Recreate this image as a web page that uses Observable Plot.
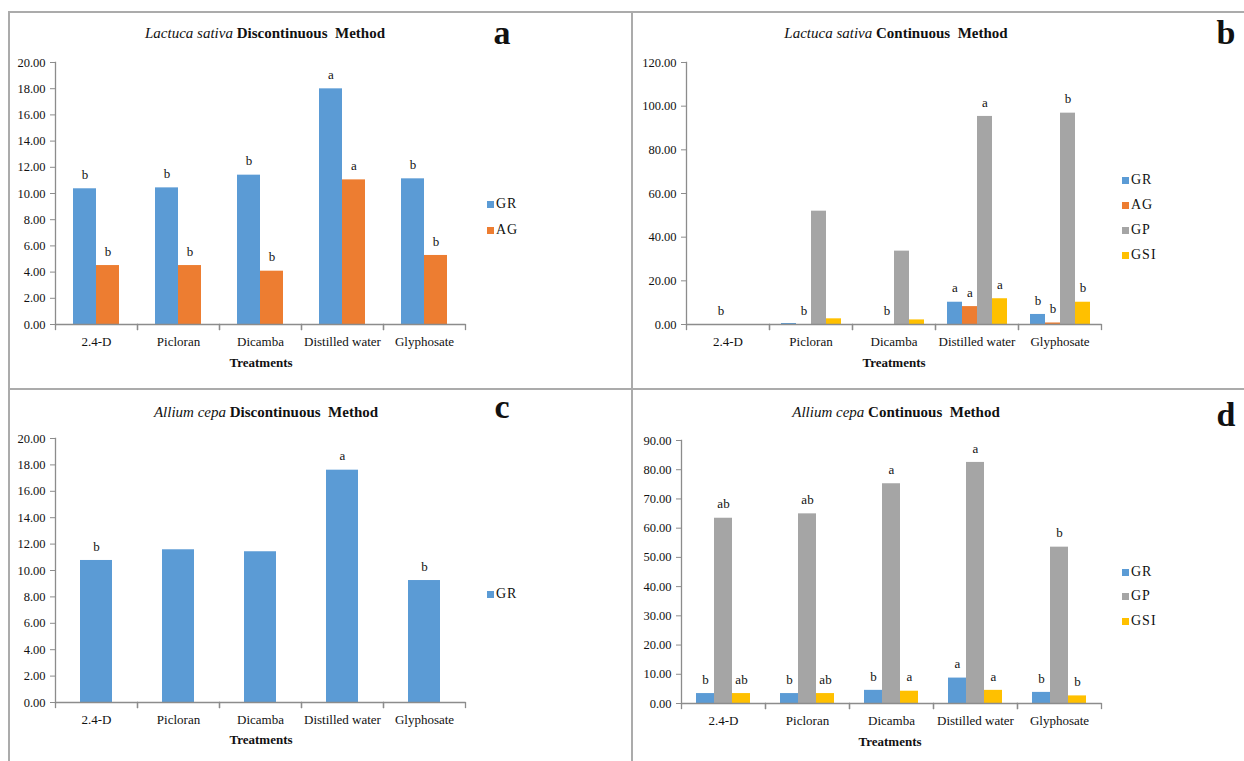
<!DOCTYPE html>
<html>
<head>
<meta charset="utf-8">
<script src="https://cdn.jsdelivr.net/npm/d3@7"></script>
<script src="https://cdn.jsdelivr.net/npm/@observablehq/plot@0.6"></script>
<style>
  html, body { margin: 0; padding: 0; background: #fff; }
  #wrap { position: relative; width: 1244px; height: 761px; overflow: hidden; background: #fff;
          font-family: "Liberation Serif", "Times New Roman", serif; color: #111; }
  #wrap svg, #wrap svg text { font-family: "Liberation Serif", "Times New Roman", serif !important; }
  .panel { position: absolute; box-sizing: border-box; border: 2px solid #ababab; }
  .title { position: absolute; transform: translate(-50%, -50%); font-size: 15px; white-space: nowrap; }
  .title i { font-weight: normal; }
  .title b { font-weight: bold; }
  .letter { position: absolute; font-size: 34px; font-weight: bold; line-height: 1; transform: translate(-50%, 0); }
  .xlab { position: absolute; transform: translate(-50%, -50%); font-size: 13px; font-weight: bold; white-space: nowrap; }
  .leg { position: absolute; font-size: 14px; white-space: nowrap; transform: translate(0, -50%); display: flex; align-items: center; letter-spacing: 1px; }
  .leg span.sw { display: inline-block; width: 7px; height: 7px; margin-right: 2px; }
</style>
</head>
<body>
<div id="wrap"></div>
<script>
// ---------- data ----------
const treatments = ["2.4-D", "Picloran", "Dicamba", "Distilled water", "Glyphosate"];
const seriesNames = ["GR", "AG", "GP", "GSI"];
const seriesColors = ["#5b9bd5", "#ed7d31", "#a5a5a5", "#ffc000"];

// (a) Lactuca sativa – discontinuous
const aGR = [10.36, 10.43, 11.40, 17.99, 11.12];
const aAG = [4.50, 4.50, 4.07, 11.04, 5.27];
const aGRsig = ["b", "b", "b", "a", "b"];
const aAGsig = ["b", "b", "b", "a", "b"];
const aTicks = [0, 2, 4, 6, 8, 10, 12, 14, 16, 18, 20];

// (b) Lactuca sativa – continuous
const bGR = [0, 0.45, 0, 10.2, 4.6];
const bAG = [0, 0, 0, 8.2, 0.7];
const bGP = [0, 51.9, 33.6, 95.3, 96.8];
const bGSI = [0, 2.6, 2.1, 11.8, 10.2];
const bGRsig = ["", "", "", "a", "b"];
const bAGsig = ["b", "b", "b", "a", "b"];
const bGPsig = ["", "", "", "a", "b"];
const bGSIsig = ["", "", "", "a", "b"];
const bTicks = [0, 20, 40, 60, 80, 100, 120];

// (c) Allium cepa – discontinuous
const cGR = [10.76, 11.57, 11.42, 17.60, 9.24];
const cGRsig = ["b", "", "", "a", "b"];
const cTicks = [0, 2, 4, 6, 8, 10, 12, 14, 16, 18, 20];

// (d) Allium cepa – continuous
const dGR = [3.4, 3.4, 4.5, 8.7, 3.8];
const dGP = [63.4, 64.9, 75.2, 82.5, 53.5];
const dGSI = [3.4, 3.4, 4.2, 4.5, 2.6];
const dGRsig = ["b", "b", "b", "a", "b"];
const dGPsig = ["ab", "ab", "a", "a", "b"];
const dGSIsig = ["ab", "ab", "a", "a", "b"];
const dTicks = [0, 10, 20, 30, 40, 50, 60, 70, 80, 90];

const titles = [
  ["Lactuca sativa", "Discontinuous\u00a0 Method"],
  ["Lactuca sativa", "Continuous\u00a0 Method"],
  ["Allium cepa", "Discontinuous\u00a0 Method"],
  ["Allium cepa", "Continuous\u00a0 Method"]
];
const panelLetters = ["a", "b", "c", "d"];
const axisTitle = "Treatments";

// ---------- helpers ----------
function rowsOf(list) {
  const rows = [];
  treatments.forEach((t, i) => {
    list.forEach(([s, vals, sig]) => rows.push({cat: t, series: s, value: vals[i], sig: sig[i]}));
  });
  return rows;
}

const AX = "#8c8c8c";
const FONT = "Liberation Serif, Times New Roman, serif";

function chart(rows, series, ticks, box) {
  const plotH = box.h - box.mt - box.mb;
  return Plot.plot({
    width: box.w, height: box.h,
    marginLeft: box.ml, marginRight: box.mr, marginTop: box.mt, marginBottom: box.mb,
    style: {fontFamily: FONT, fontSize: "12px", background: "transparent", color: "#111", overflow: "visible"},
    fx: {domain: treatments, paddingInner: 0, paddingOuter: 0, label: null},
    x: {domain: series, paddingInner: 0, paddingOuter: 0.75, axis: null},
    y: {domain: [ticks[0], ticks[ticks.length - 1]], axis: null},
    color: {domain: seriesNames, range: seriesColors},
    marks: [
      Plot.barY(rows, {fx: "cat", x: "series", y: "value", fill: "series", insetLeft: 0, insetRight: 0}),
      Plot.ruleY([0], {stroke: AX, strokeWidth: 1.3}),
      Plot.frame({anchor: "left", insetTop: plotH, insetBottom: -5, stroke: AX, strokeWidth: 1.3}),
      Plot.frame({anchor: "right", insetTop: plotH, insetBottom: -5, stroke: AX, strokeWidth: 1.3}),
      Plot.frame({anchor: "left", facet: "super", stroke: AX, strokeWidth: 1.3}),
      Plot.axisY({ticks, tickFormat: d => d.toFixed(2), tickSize: 5, tickPadding: 5, stroke: AX,
                  fontSize: 12.5, fontFamily: FONT, fill: "#111", label: null}),
      Plot.axisFx({anchor: "bottom", tickSize: 0, tickPadding: 12, fontSize: 13, fontFamily: FONT, fill: "#111", label: null}),
      Plot.text(rows.filter(d => d.sig), {fx: "cat", x: "series", y: "value", text: "sig", dy: -14,
                  fontSize: 13, fontFamily: FONT, fill: "#111"})
    ]
  });
}

// ---------- layout ----------
const wrap = document.getElementById("wrap");
function add(html, cls, style) {
  const el = document.createElement("div");
  el.className = cls;
  Object.assign(el.style, style);
  if (html != null) el.innerHTML = html;
  wrap.appendChild(el);
  return el;
}

// panel borders
add(null, "panel", {left: "8px", top: "11px", width: "625px", height: "379px"});
add(null, "panel", {left: "631px", top: "11px", width: "630px", height: "379px"});
add(null, "panel", {left: "8px", top: "388px", width: "625px", height: "390px"});
add(null, "panel", {left: "631px", top: "388px", width: "630px", height: "390px"});

const panels = [
  {
    rows: rowsOf([["GR", aGR, aGRsig], ["AG", aAG, aAGsig]]), series: ["GR", "AG"], ticks: aTicks,
    box: {x: 8, y: 12, w: 620, h: 376, ml: 45, mr: 161, mt: 50, mb: 64},
    title: [265, 33], letter: [502, 16], xlab: [261, 363], leg: [487, [204, 230]]
  },
  {
    rows: rowsOf([["GR", bGR, bGRsig], ["AG", bAG, bAGsig], ["GP", bGP, bGPsig], ["GSI", bGSI, bGSIsig]]),
    series: ["GR", "AG", "GP", "GSI"], ticks: bTicks,
    box: {x: 633, y: 12, w: 611, h: 376, ml: 52, mr: 142, mt: 50, mb: 64},
    title: [896, 33], letter: [1226, 16], xlab: [894, 363], leg: [1122, [180, 205, 230, 255]]
  },
  {
    rows: rowsOf([["GR", cGR, cGRsig]]), series: ["GR"], ticks: cTicks,
    box: {x: 8, y: 390, w: 620, h: 371, ml: 45, mr: 161, mt: 48, mb: 59},
    title: [266, 412], letter: [502, 390], xlab: [261, 740], leg: [487, [594]]
  },
  {
    rows: rowsOf([["GR", dGR, dGRsig], ["GP", dGP, dGPsig], ["GSI", dGSI, dGSIsig]]),
    series: ["GR", "GP", "GSI"], ticks: dTicks,
    box: {x: 633, y: 390, w: 611, h: 371, ml: 47, mr: 142, mt: 50, mb: 58},
    title: [896, 412], letter: [1226, 398], xlab: [890, 742], leg: [1122, [572, 596, 621]]
  }
];

panels.forEach((p, k) => {
  const svg = chart(p.rows, p.series, p.ticks, p.box);
  svg.style.position = "absolute";
  svg.style.left = p.box.x + "px";
  svg.style.top = p.box.y + "px";
  wrap.appendChild(svg);

  add(`<i>${titles[k][0]}</i> <b>${titles[k][1]}</b>`, "title", {left: p.title[0] + "px", top: p.title[1] + "px"});
  add(panelLetters[k], "letter", {left: p.letter[0] + "px", top: p.letter[1] + "px"});
  add(axisTitle, "xlab", {left: p.xlab[0] + "px", top: p.xlab[1] + "px"});
  p.series.forEach((s, j) => {
    const c = seriesColors[seriesNames.indexOf(s)];
    add(`<span class="sw" style="background:${c}"></span>${s}`, "leg", {left: p.leg[0] + "px", top: p.leg[1][j] + "px"});
  });
});
</script>
</body>
</html>
